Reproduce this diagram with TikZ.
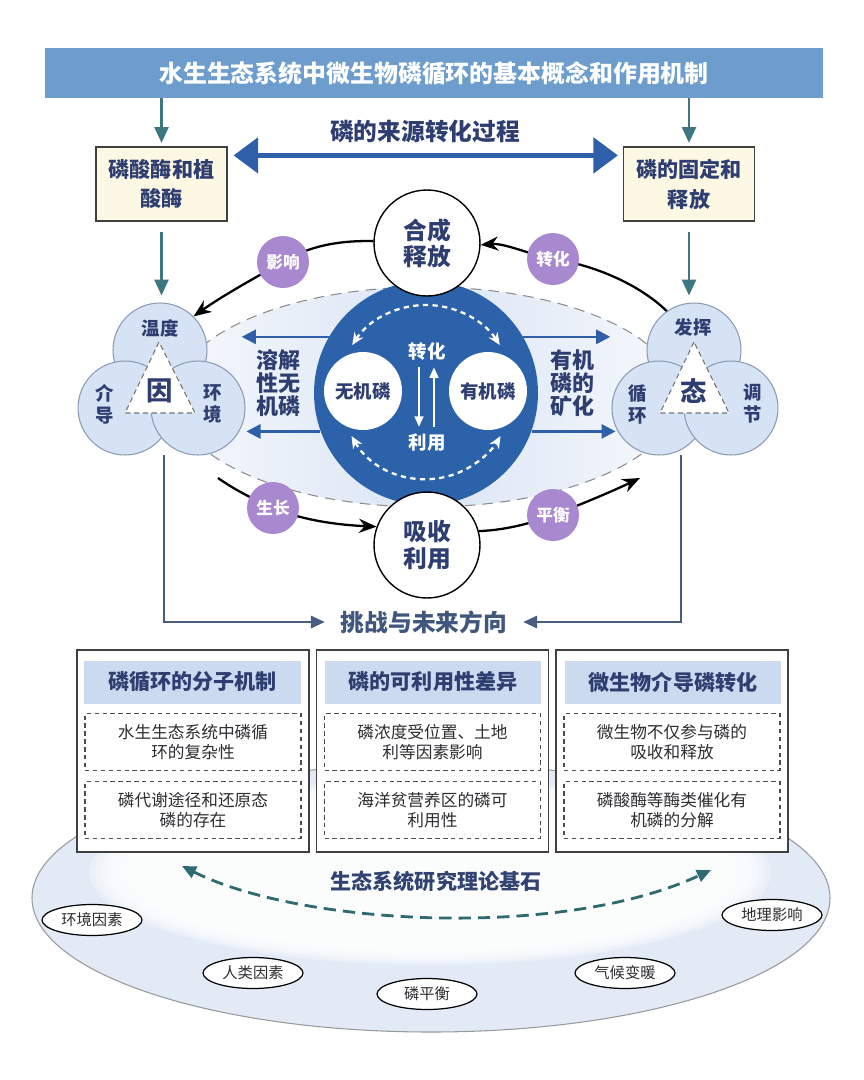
\documentclass[tikz,border=0pt]{standalone}
\usepackage{fontspec}
\setmainfont{Noto Sans CJK SC}
\usetikzlibrary{arrows.meta,shapes.geometric}
\definecolor{titlebg}{RGB}{108,157,204}
\definecolor{navy}{RGB}{46,62,112}
\definecolor{bigblue}{RGB}{44,98,170}
\definecolor{arrblue}{RGB}{47,95,168}
\definecolor{tealar}{RGB}{62,118,130}
\definecolor{slate}{RGB}{70,92,128}
\definecolor{cream}{RGB}{253,248,228}
\definecolor{vennfill}{RGB}{214,227,245}
\definecolor{vennline}{RGB}{140,155,180}
\definecolor{purp}{RGB}{168,136,206}
\definecolor{hdr}{RGB}{203,218,238}
\definecolor{lightbase}{RGB}{226,234,246}
\definecolor{lensmid}{RGB}{218,229,245}
\definecolor{lensedge}{RGB}{246,248,252}
\definecolor{dteal}{RGB}{46,106,112}
\definecolor{bodytxt}{RGB}{45,45,50}
\tikzset{
  lbl/.style={text=navy, font=\bfseries\fontsize{12}{13.5}\selectfont, align=center, inner sep=1pt},
  boxtxt/.style={lbl, font=\bfseries\fontsize{12}{17}\selectfont},
  topbox/.style={draw=black!75, line width=0.7pt, fill=cream, minimum width=2.62cm, minimum height=1.48cm, inner sep=0pt},
  tealarrow/.style={draw=tealar, line width=1.2pt, -{Triangle[length=9pt,width=8pt]}},
  dblarrow/.style={draw=arrblue, line width=3pt, {Triangle[length=14pt,width=20pt]}-{Triangle[length=14pt,width=20pt]}},
  bluearrow/.style={draw=arrblue, line width=1.5pt, -{Triangle[length=8pt,width=8pt]}},
  venn/.style={circle, draw=vennline, line width=0.6pt, fill=vennfill, minimum size=1.88cm, inner sep=0pt},
  venntxt/.style={text=navy, font=\bfseries\fontsize{10.5}{12.5}\selectfont, align=center, inner sep=0pt},
  wcirc/.style={circle, draw=black, line width=0.8pt, fill=white, minimum size=2.12cm, inner sep=0pt, text=navy, align=center, font=\bfseries\fontsize{13.5}{15}\selectfont},
  icirc/.style={circle, fill=white, minimum size=1.56cm, inner sep=0pt, text=navy, font=\bfseries\fontsize{10.5}{12}\selectfont},
  wtxt/.style={text=white, font=\bfseries\fontsize{10.5}{12}\selectfont, inner sep=1pt},
  warrow/.style={draw=white, line width=1.2pt, -{Triangle[length=6pt,width=5pt]}},
  warc/.style={draw=white, line width=1.3pt, dash pattern=on 3pt off 2.5pt, {Stealth[length=7pt,width=6pt]}-{Stealth[length=7pt,width=6pt]}},
  curvarrow/.style={draw=black, line width=1.3pt, -{Stealth[length=10pt,width=8pt]}},
  pc/.style={circle, fill=purp, minimum size=1.04cm, inner sep=0pt, text=white, font=\bfseries\fontsize{9.5}{11}\selectfont},
  slateline/.style={draw=slate, line width=1.3pt, -{Triangle[length=8pt,width=7pt]}},
  panel/.style={draw=black!75, line width=0.8pt, fill=white, minimum width=4.64cm, minimum height=4.04cm, inner sep=0pt},
  hbar/.style={fill=hdr, minimum width=4.34cm, minimum height=0.86cm, inner sep=0pt, text=navy, font=\bfseries\fontsize{12}{14}\selectfont},
  dbox/.style={draw=black!70, line width=0.6pt, dash pattern=on 2.5pt off 2pt, minimum width=4.32cm, minimum height=1.13cm, inner sep=0pt, align=center, text=bodytxt, font=\fontsize{9.5}{11.5}\selectfont},
  tag/.style={ellipse, draw=black, line width=0.7pt, fill=white, minimum width=2.0cm, minimum height=0.62cm, inner sep=0pt, text=bodytxt, font=\fontsize{8.7}{10}\selectfont},
}
\begin{document}
\begin{tikzpicture}[x=0.02cm,y=-0.02cm]
\useasboundingbox (0,0) rectangle (864,1080);
\fill[white] (0,0) rectangle (864,1080);

% bottom base ellipse
\filldraw[fill=lightbase, draw=black!40, line width=0.6pt] (431,898) ellipse [x radius=399, y radius=134];
\foreach \k in {0,...,6}{
  \fill[white, opacity=0.3] (430,872) ellipse [x radius={305+6*\k}, y radius={78+2.5*\k}];
}

% title
\node[fill=titlebg, minimum width=15.56cm, minimum height=1.0cm, inner sep=0pt, text=white, font=\bfseries\fontsize{13.6}{15}\selectfont] (title) at (434,73) {水生生态系统中微生物磷循环的基本概念和作用机制};

% top boxes
\node[topbox, boxtxt] (lbox) at (161.5,184) {磷酸酶和植\\酸酶};
\node[topbox, boxtxt] (rbox) at (689,184) {磷的固定和\\释放};
\draw[tealarrow] (title.south -| lbox.north) -- ([yshift=2pt]lbox.north);
\draw[tealarrow] (title.south -| rbox.north) -- ([yshift=2pt]rbox.north);
\node[lbl, font=\bfseries\fontsize{13.5}{15}\selectfont] (src) at (425,132) {磷的来源转化过程};
\draw[dblarrow] ([xshift=0.12cm,yshift=-0.18cm]lbox.north east) -- ([xshift=-0.1cm,yshift=-0.18cm]rbox.north west);

% lens
\path[left color=lensedge, right color=lensedge, middle color=lensmid] (426,397) ellipse [x radius=252, y radius=110];
\draw[black!45, line width=0.6pt, dash pattern=on 6pt off 4pt] (426,397) ellipse [x radius=252, y radius=110];

% big circle
\node[circle, fill=bigblue, minimum size=4.48cm, inner sep=0pt] (big) at (426,393) {};

% blue straight arrows
\draw[bluearrow] (big.150) -- ++(-87,0);
\draw[bluearrow] (big.200) -- ++(-74,0);
\draw[bluearrow] (big.30) -- ++(87,0);
\draw[bluearrow] (big.-20) -- ++(84,0);
\node[lbl, font=\bfseries\fontsize{12.5}{13}\selectfont] (sol) at (278,383) {溶解\\性无\\机磷};
\node[lbl, font=\bfseries\fontsize{12.5}{13}\selectfont] (min) at (572,383) {有机\\磷的\\矿化};

% left venn
\node[venn] (vlt) at (160,350) {};
\node[venn] (vll) at (125,408) {};
\node[venn] (vlr) at (198,408) {};
\draw[black!55, fill=white, line width=0.6pt, dash pattern=on 3pt off 2pt] (159,342) -- (125,413) -- (195,413) -- cycle;
\node[venntxt] (wd) at (160,328) {温度};
\node[venntxt] (jd) at (105,404) {介\\导};
\node[venntxt] (hj) at (213,404) {环\\境};
\node[venntxt, font=\bfseries\fontsize{15}{16}\selectfont] (yin) at (160,391) {因};

% right venn
\node[venn] (vrt) at (694,350) {};
\node[venn] (vrl) at (659,408) {};
\node[venn] (vrr) at (731,408) {};
\draw[black!55, fill=white, line width=0.6pt, dash pattern=on 3pt off 2pt] (694,342) -- (660,413) -- (729,413) -- cycle;
\node[venntxt] (fh) at (693,327) {发挥};
\node[venntxt] (xh) at (638,404) {循\\环};
\node[venntxt] (tj) at (753,404) {调\\节};
\node[venntxt, font=\bfseries\fontsize{15}{16}\selectfont] (tai) at (694,391) {态};

% arrows into venns
\draw[tealarrow, shorten <=6pt] (lbox.south) -- ([yshift=4pt]lbox.south |- vlt.north);
\draw[tealarrow, shorten <=6pt] (rbox.south) -- ([yshift=4pt]rbox.south |- vrt.north);

% top / bottom circles
\node[wcirc] (tc) at (427,243) {合成\\释放};
\node[wcirc] (bc) at (427,545) {吸收\\利用};

% inner circles
\node[icirc] (inorg) at (363,391) {无机磷};
\node[icirc] (org) at (488,391) {有机磷};
\node[wtxt] (zh) at (427,351) {转化};
\node[wtxt] (ly) at (427,443) {利用};
\draw[warrow] ([xshift=-0.16cm,yshift=-3pt]zh.south) -- ([xshift=-0.16cm,yshift=3pt]ly.north);
\draw[warrow] ([xshift=0.14cm,yshift=3pt]ly.north) -- ([xshift=0.14cm,yshift=-3pt]zh.south);
\draw[warc] ([shift={(213:88)}]big.center) arc[start angle=213, end angle=327, radius=88];
\draw[warc] ([shift={(150:86)}]big.center) arc[start angle=150, end angle=30, radius=86];

% curved arrows
\coordinate (p1c) at (283,262);
\coordinate (p2c) at (553,259);
\coordinate (p3c) at (273,508);
\coordinate (p4c) at (553,515);
\coordinate (g0) at (218,478);
\coordinate (b1) at (640,478);
\draw[curvarrow] (tc.178) .. controls (330,240) and (302,250) .. (p1c) .. controls (258,276) and (222,296) .. (vlt.45);
\draw[curvarrow] (vrt.125) .. controls (640,285) and (595,265) .. (p2c) .. controls (528,254) and (505,243) .. (tc.-2);
\draw[curvarrow] (g0) .. controls (235,490) and (255,500) .. (p3c) .. controls (305,521) and (340,525) .. (bc.160);
\draw[curvarrow] (bc.15) .. controls (508,530) and (535,522) .. (p4c) .. controls (585,503) and (615,490) .. (b1);
\node[pc] (p1) at (p1c) {影响};
\node[pc] (p2) at (p2c) {转化};
\node[pc] (p3) at (p3c) {生长};
\node[pc] (p4) at (p4c) {平衡};

% lines to challenge
\node[lbl, text=slate!80!navy, font=\bfseries\fontsize{13.5}{15}\selectfont] (chal) at (424,622) {挑战与未来方向};
\coordinate (vlb) at (164,455);
\coordinate (vrb) at (681,455);
\draw[slateline, shorten >=8pt] (vlb) |- (chal.west);
\draw[slateline, shorten >=8pt] (vrb) |- (chal.east);

% panels
\node[panel] (pa) at (193,751) {};
\node[panel] (pb) at (432.5,751) {};
\node[panel] (pc3) at (672,751) {};
\node[hbar] (ha) at (192.5,682) {磷循环的分子机制};
\node[hbar] (hb) at (433,682) {磷的可利用性差异};
\node[hbar] (hc) at (673,682) {微生物介导磷转化};
\node[dbox] (a1) at (193,742) {水生生态系统中磷循\\环的复杂性};
\node[dbox] (a2) at (193,810) {磷代谢途径和还原态\\磷的存在};
\node[dbox] (b1b) at (432.5,742) {磷浓度受位置、土地\\利等因素影响};
\node[dbox] (b2b) at (432.5,810) {海洋贫营养区的磷可\\利用性};
\node[dbox] (c1) at (672,742) {微生物不仅参与磷的\\吸收和释放};
\node[dbox] (c2) at (672,810) {磷酸酶等酶类催化有\\机磷的分解};

% bottom arc and tags
\node[lbl, text=navy!85!slate] (base) at (436,881) {生态系统研究理论基石};
\coordinate (bl) at (182,866);
\coordinate (br) at (711,870);
\draw[draw=dteal, line width=1.6pt, dash pattern=on 7pt off 4pt, {Triangle[length=8pt,width=7pt]}-{Triangle[length=8pt,width=7pt]}] (bl) .. controls (300,925) and (560,940) .. (br);
\node[tag] (t1) at (92,920) {环境因素};
\node[tag] (t2) at (772,915) {地理影响};
\node[tag] (t3) at (253,973) {人类因素};
\node[tag] (t4) at (427,994) {磷平衡};
\node[tag] (t5) at (625,973) {气候变暖};
\end{tikzpicture}
\end{document}
